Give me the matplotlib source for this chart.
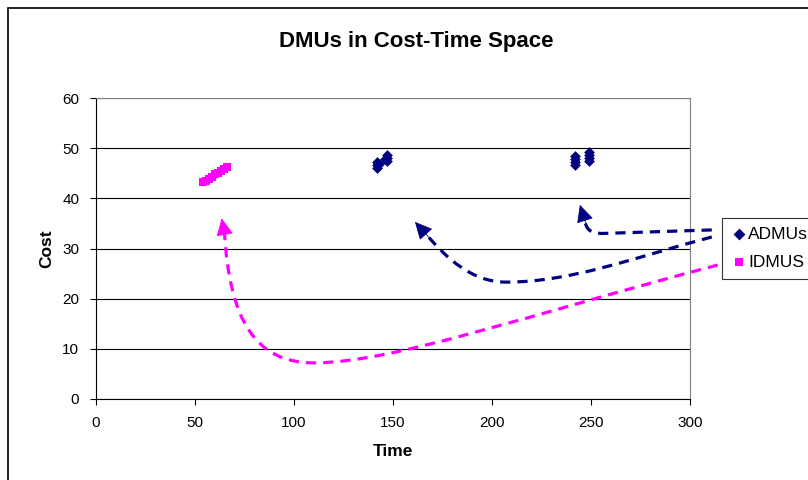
import matplotlib
matplotlib.use("Agg")
import matplotlib.pyplot as plt
from matplotlib.patches import FancyArrowPatch, PathPatch, Rectangle
from matplotlib.path import Path

# --- data ---
admu_time = [142, 142, 142, 143, 147, 147, 147, 146,
             242, 242, 242, 242, 249, 249, 249, 249]
admu_cost = [46.0, 46.6, 47.2, 46.8, 47.4, 48.0, 48.6, 47.8,
             46.6, 47.2, 47.8, 48.4, 47.4, 48.0, 48.7, 49.3]

idmu_time = [54, 55.5, 57, 58.5, 60, 61.5, 63, 64.5, 66]
idmu_cost = [43.2, 43.5, 43.9, 44.2, 44.8, 45.1, 45.4, 45.9, 46.2]

x_ticks = [0, 50, 100, 150, 200, 250, 300]
y_ticks = [0, 10, 20, 30, 40, 50, 60]

PINK = "#FF00FF"
NAVY = "#000080"

plt.rcParams['font.family'] = ['Liberation Sans', 'DejaVu Sans']

W, H = 808, 480
fig = plt.figure(figsize=(W / 100, H / 100), dpi=100)

# plot area in pixels: x 96..690, y 98..399
ax = fig.add_axes([96 / W, 1 - 399 / H, (690 - 96) / W, (399 - 98) / H])

# outer chart border (right/bottom run off the picture)
fig.patches.append(Rectangle((8 / W, -0.1), 1.2, 1 - 8 / H + 0.1,
                             transform=fig.transFigure, fill=False,
                             edgecolor='black', linewidth=1.2))

ax.scatter(admu_time, admu_cost, marker='D', s=30, color=NAVY,
           label='ADMUs', zorder=3, linewidths=0)
ax.scatter(idmu_time, idmu_cost, marker='s', s=28, color=PINK,
           label='IDMUS', zorder=3, linewidths=0)

ax.set_xlim(0, 300)
ax.set_ylim(0, 60)
ax.set_xticks(x_ticks)
ax.set_yticks(y_ticks)
ax.tick_params(direction='out', length=4, width=0.8, labelsize=11, pad=8)
ax.yaxis.grid(True, color='black', linewidth=0.8)
ax.set_axisbelow(True)
for side in ['top', 'right']:
    ax.spines[side].set_color('#808080')
for side in ['left', 'bottom']:
    ax.spines[side].set_color('black')

ax.set_xlabel('Time', fontsize=12.5, fontweight='bold', labelpad=10)
ax.set_ylabel('Cost', fontsize=12.5, fontweight='bold', labelpad=6)
fig.text(416 / W, 1 - 42 / H, 'DMUs in Cost-Time Space', ha='center',
         va='center', fontsize=16, fontweight='bold')

# curved dashed arrows (annotation), in data coords
C4 = [Path.CURVE4] * 3


def dashed_arrow(verts, codes, color, head_from, tip):
    ax.add_patch(PathPatch(Path(verts, codes), fill=False, edgecolor=color,
                           linewidth=2.3, linestyle=(0, (3.2, 2.2)),
                           capstyle='butt', clip_on=False, zorder=4))
    # solid filled head
    ax.add_patch(FancyArrowPatch(head_from, tip, facecolor=color,
                                 edgecolor=color, fill=True,
                                 arrowstyle='-|>,head_length=0.55,head_width=0.27',
                                 mutation_scale=20, linewidth=0.6,
                                 shrinkA=0, shrinkB=0, clip_on=False, zorder=5))


dashed_arrow([(314, 26.7), (220, 17), (150, 7.2), (110, 7.2),
              (80, 7.2), (67.5, 16), (64.9, 33.1)],
             [Path.MOVETO] + C4 + C4, PINK, (65.3, 32.1), (63.5, 36))

dashed_arrow([(311, 32.3), (270, 28), (240, 23.3), (207, 23.3),
              (190, 23.3), (177, 28), (166.2, 33.1)],
             [Path.MOVETO] + C4 + C4, NAVY, (167.9, 32.3), (161.1, 35.3))

dashed_arrow([(311, 33.7), (256, 33.0), (249, 33.0), (247.5, 34),
              (246.7, 35.8)],
             [Path.MOVETO, Path.LINETO] + C4, NAVY, (247.5, 34.9), (244.4, 38.7))

leg = ax.legend(loc='upper left', bbox_to_anchor=(722 / W, 1 - 218 / H),
                bbox_transform=fig.transFigure, frameon=True, fancybox=False,
                fontsize=12.5, handletextpad=0.0, handlelength=1.0,
                borderpad=0.5, labelspacing=0.75, borderaxespad=0,
                markerscale=1.1)
leg.get_frame().set_edgecolor('black')
leg.get_frame().set_linewidth(0.8)

fig.savefig('out.png', dpi=100)
